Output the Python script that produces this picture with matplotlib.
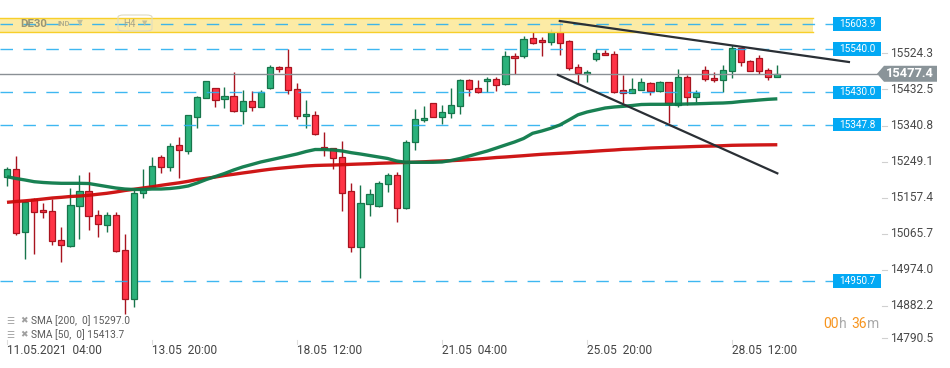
import matplotlib
matplotlib.use('Agg')
import matplotlib.pyplot as plt
import matplotlib.transforms as mtransforms
from matplotlib.patches import Rectangle, Polygon, FancyBboxPatch
import numpy as np

plt.rcParams['font.family'] = ['Roboto', 'DejaVu Sans']

# ---------------- data ----------------
opens = [15214.3, 15234.6, 15074.5, 15159.1, 15131.2, 15128.6, 15054.1, 15039.0, 15140.6, 15178.7,
         15117.7, 15092.3, 15117.7, 15028.7, 14904.2, 15173.6, 15192.2, 15265.1, 15239.7, 15296.4,
         15281.9, 15368.3, 15415.1, 15440.5, 15412.5, 15420.1, 15382.0, 15407.4, 15392.2, 15440.5,
         15493.9, 15493.9, 15437.9, 15369.3, 15371.9, 15290.5, 15288.0, 15265.1, 15178.7, 15036.4,
         15145.7, 15140.6, 15196.5, 15219.4, 15135.5, 15303.2, 15359.1, 15402.4, 15366.8, 15376.9,
         15394.7, 15460.8, 15440.5, 15458.3, 15463.4, 15450.6, 15521.8, 15521.8, 15567.6, 15562.5,
         15556.9, 15584.8, 15559.9, 15494.0, 15476.1, 15514.2, 15529.4, 15526.9, 15435.4, 15427.8,
         15435.4, 15453.2, 15432.9, 15455.7, 15397.3, 15468.4, 15417.6, 15486.2, 15465.9, 15460.8,
         15483.7, 15542.1, 15509.1, 15516.7, 15486.2, 15468.4]
highs = [15239.7, 15268.4, 15155.0, 15161.0, 15148.2, 15159.1, 15088.0, 15187.1, 15220.1, 15227.7,
         15131.2, 15126.1, 15126.1, 15069.4, 15187.1, 15234.6, 15266.6, 15271.0, 15300.7, 15317.5,
         15372.6, 15420.9, 15459.0, 15441.0, 15443.8, 15481.9, 15435.4, 15432.9, 15435.4, 15498.9,
         15496.4, 15540.4, 15453.2, 15410.0, 15382.0, 15328.6, 15288.7, 15305.8, 15199.0, 15193.9,
         15183.8, 15204.1, 15224.4, 15227.0, 15308.3, 15387.1, 15394.7, 15403.0, 15397.3, 15440.5,
         15463.4, 15463.4, 15460.8, 15468.4, 15468.4, 15534.5, 15529.4, 15572.6, 15582.8, 15570.1,
         15590.4, 15611.5, 15563.0, 15501.5, 15486.2, 15539.6, 15537.1, 15534.5, 15473.5, 15465.9,
         15465.9, 15455.7, 15458.3, 15456.5, 15488.8, 15473.5, 15435.4, 15496.4, 15481.1, 15498.9,
         15549.8, 15542.9, 15511.6, 15524.4, 15491.3, 15498.9]
lows = [15192.9, 15067.0, 15006.0, 15018.6, 15110.0, 15041.4, 14998.3, 15036.4, 15056.7, 15079.6,
        15061.8, 15074.5, 15023.7, 14866.8, 14884.6, 15160.9, 15190.0, 15226.0, 15231.0, 15211.7,
        15273.5, 15338.8, 15414.6, 15392.2, 15389.6, 15379.5, 15349.0, 15382.0, 15391.7, 15437.9,
        15481.1, 15425.2, 15361.7, 15338.8, 15323.0, 15267.6, 15234.6, 15127.9, 15023.7, 14957.6,
        15115.2, 15140.0, 15176.1, 15099.9, 15133.0, 15282.9, 15354.1, 15366.3, 15349.0, 15364.2,
        15374.4, 15420.1, 15427.8, 15430.3, 15432.9, 15448.1, 15476.1, 15516.7, 15553.0, 15521.8,
        15550.5, 15524.4, 15486.2, 15454.5, 15455.7, 15509.1, 15524.0, 15429.8, 15402.4, 15427.3,
        15434.9, 15422.7, 15430.3, 15351.5, 15392.2, 15397.3, 15404.9, 15458.3, 15455.7, 15430.3,
        15465.9, 15496.4, 15483.2, 15476.1, 15460.8, 15468.0]
closes = [15234.6, 15072.0, 15152.3, 15125.3, 15125.3, 15051.6, 15041.4, 15143.1, 15178.7, 15115.2,
          15094.8, 15117.7, 15026.2, 14904.2, 15173.6, 15186.3, 15243.0, 15241.2, 15293.8, 15283.7,
          15371.9, 15418.4, 15458.3, 15410.0, 15420.1, 15382.0, 15407.4, 15392.2, 15430.3, 15493.9,
          15488.8, 15435.4, 15369.3, 15374.4, 15323.6, 15285.4, 15262.6, 15173.6, 15036.4, 15148.2,
          15171.1, 15199.0, 15219.4, 15135.5, 15303.2, 15361.7, 15364.2, 15366.8, 15379.5, 15397.3,
          15460.8, 15437.9, 15430.3, 15463.4, 15448.1, 15521.8, 15516.7, 15565.0, 15554.8, 15557.4,
          15584.1, 15554.8, 15491.3, 15478.6, 15481.1, 15529.4, 15524.4, 15430.3, 15427.8, 15437.9,
          15455.7, 15432.9, 15455.7, 15402.4, 15468.4, 15417.6, 15427.8, 15463.4, 15460.8, 15486.2,
          15542.1, 15506.6, 15483.7, 15483.7, 15468.4, 15477.4]

sma50 = [15215.8, 15211.2, 15207.4, 15203.1, 15201.1, 15199.8, 15199.0, 15199.0, 15199.0, 15198.5,
         15194.7, 15190.9, 15187.1, 15184.5, 15183.3, 15183.3, 15184.5, 15184.5, 15185.8, 15188.3,
         15192.2, 15199.8, 15208.7, 15216.3, 15223.9, 15232.8, 15240.5, 15246.8, 15253.2, 15258.2,
         15263.3, 15268.4, 15273.5, 15279.8, 15284.9, 15284.9, 15283.7, 15281.1, 15276.8, 15273.5,
         15269.7, 15265.9, 15262.1, 15255.7, 15252.4, 15252.4, 15252.4, 15252.4, 15253.2, 15257.0,
         15262.1, 15268.4, 15274.8, 15281.1, 15288.7, 15296.4, 15304.0, 15312.9, 15326.1, 15331.9,
         15338.8, 15347.2, 15359.9, 15373.1, 15380.2, 15385.3, 15390.4, 15393.0, 15394.7, 15396.8,
         15399.3, 15399.8, 15399.8, 15399.8, 15399.8, 15400.6, 15401.1, 15401.8, 15402.6, 15403.1,
         15404.4, 15406.9, 15408.7, 15410.7, 15412.5, 15413.7]
sma200 = [15150.7, 15152.8, 15154.5, 15156.6, 15159.1, 15161.7, 15163.4, 15165.5, 15166.7, 15168.5,
          15171.1, 15173.6, 15176.9, 15180.7, 15183.8, 15187.1, 15190.1, 15193.9, 15197.2, 15200.3,
          15204.1, 15208.7, 15211.7, 15215.0, 15218.9, 15221.9, 15225.2, 15228.3, 15231.6, 15234.6,
          15237.1, 15239.2, 15241.2, 15243.0, 15244.3, 15245.0, 15245.5, 15246.3, 15247.3, 15248.1,
          15248.8, 15249.9, 15250.6, 15251.4, 15251.9, 15252.7, 15253.7, 15254.9, 15255.7, 15256.5,
          15257.7, 15259.3, 15260.8, 15262.6, 15264.6, 15265.9, 15267.6, 15269.2, 15271.0, 15272.7,
          15274.0, 15275.3, 15276.5, 15278.1, 15279.3, 15280.9, 15282.4, 15283.7, 15285.4, 15286.2,
          15287.5, 15288.7, 15289.5, 15290.3, 15291.0, 15291.8, 15292.6, 15293.3, 15293.8, 15294.6,
          15295.6, 15296.0, 15296.3, 15296.6, 15296.8, 15297.0]

levels = [15603.9, 15540.0, 15430.0, 15347.8, 14950.7]
zone_low, zone_high = 15584.3, 15618.4
last_price = 15477.4
yticks = [15524.3, 15432.5, 15340.8, 15249.1, 15157.4, 15065.7, 14974.0, 14882.2, 14790.5]
xtick_idx = [0, 16, 32, 48, 64, 80]
xtick_labels = ['11.05.2021  04:00', '13.05  20:00', '18.05  12:00',
                '21.05  04:00', '25.05  20:00', '28.05  12:00']
upper_trend_x = [61.0, 92.9]
upper_trend_y = [15611.5, 15507.3]
lower_trend_x = [60.8, 85.0]
lower_trend_y = [15474.3, 15224.4]
sma200_label = 'SMA [200,  0] 15297.0'
sma50_label = 'SMA [50,  0] 15413.7'

# ---------------- figure ----------------
W, H = 950, 368
fig = plt.figure(figsize=(W / 100, H / 100), dpi=100)
AX_W, AX_H = 880, 344
ax = fig.add_axes([0, (H - AX_H) / H, AX_W / W, AX_H / H])
ax.set_xlim(-0.772, 96.33)
ax.set_ylim(14790.6, 15664.9)
ax.axis('off')

def px(x):  # figure pixel x -> axes fraction
    return x / AX_W

yax = ax.get_yaxis_transform()

# yellow zone
ax.add_patch(Rectangle((0, zone_low), px(813), zone_high - zone_low, transform=yax,
                       facecolor='#fce896', edgecolor='none', alpha=0.85, zorder=4))
for yv in (zone_low, zone_high):
    ax.plot([0, px(813)], [yv, yv], transform=yax, color='#f7cf2a', lw=1.0, zorder=4.1)

# candles
idx = np.arange(len(opens))
o = np.array(opens); c = np.array(closes); hi = np.array(highs); lo = np.array(lows)
up = c >= o
body_bottom = np.minimum(o, c)
body_h = np.maximum(np.abs(c - o), 2.5)
g_face, g_edge = '#2bb27b', '#17754b'
r_face, r_edge = '#ff3346', '#a8141f'
ax.vlines(idx[up], lo[up], hi[up], color=g_edge, lw=1.0, zorder=2)
ax.vlines(idx[~up], lo[~up], hi[~up], color=r_edge, lw=1.0, zorder=2)
ax.bar(idx[up], body_h[up], bottom=body_bottom[up], width=0.68, color=g_face,
       edgecolor=g_edge, linewidth=0.9, zorder=3)
ax.bar(idx[~up], body_h[~up], bottom=body_bottom[~up], width=0.68, color=r_face,
       edgecolor=r_edge, linewidth=0.9, zorder=3)

# SMA lines
ax.plot(idx, sma200, color='#cc0a0a', lw=2.4, zorder=5, solid_capstyle='butt', alpha=0.95)
ax.plot(idx, sma50, color='#0c7a4a', lw=2.4, zorder=5, solid_capstyle='butt', alpha=0.95)

# trend lines
ax.plot(upper_trend_x, upper_trend_y, color='#2a2f35', lw=1.6, zorder=6)
ax.plot(lower_trend_x, lower_trend_y, color='#2a2f35', lw=1.6, zorder=6)

# level lines + labels
blue = '#29b0f0'
for lv in levels:
    ax.plot([0, px(833)], [lv, lv], transform=yax, color=blue, lw=1.0, alpha=0.9,
            ls=(0, (9, 7.5)), zorder=4.5)
    ax.add_patch(Rectangle((px(833), lv - 17.0), px(48), 34.0, transform=yax,
                           facecolor='#03a9f4', edgecolor='none', zorder=7, clip_on=False))
    ax.text(px(857), lv, f'{lv:.1f}', transform=yax, ha='center', va='center',
            color='white', fontsize=7.2, zorder=8, clip_on=False)

# current price line + tag
ax.plot([0, px(877)], [last_price, last_price], transform=yax, color='#8a9095', lw=1.0, zorder=4.6,
        clip_on=False)
dh = 20.3
ax.add_patch(Polygon([(px(877), last_price), (px(884), last_price + dh), (px(937), last_price + dh),
                      (px(937), last_price - dh), (px(884), last_price - dh)], closed=True,
                     transform=yax, facecolor='#8a9499', edgecolor='none', zorder=9, clip_on=False))
ax.text(px(910), last_price, f'{last_price:.1f}', transform=yax, ha='center', va='center',
        color='white', fontsize=9.3, fontweight='bold', zorder=10, clip_on=False)

# y tick labels
for t in yticks:
    dy = 2 / 100 if t > 14800 else 6 / 100
    tr = yax + mtransforms.ScaledTranslation(0, dy, fig.dpi_scale_trans)
    ax.text(px(890), t, f'{t:.1f}', transform=tr, ha='left', va='center',
            color='#4a4a4a', fontsize=8.6, clip_on=False)
    ax.plot([px(882), px(887)], [t, t], transform=tr, color='#d0d0d0', lw=0.8, clip_on=False)

# x tick labels
xtr = mtransforms.blended_transform_factory(ax.transData, fig.transFigure)
for i, lab in zip(xtick_idx, xtick_labels):
    ax.text(i + 0.05, 1 - 351 / H, lab, transform=xtr, ha='left', va='center',
            color='#444444', fontsize=8.6, clip_on=False)
    ax.plot([i, i], [1 - 340 / H, 1 - 344 / H], transform=xtr, color='#dddddd', lw=0.8,
            clip_on=False)

# legend of indicators
for yy, lab in ((321, sma200_label), (335, sma50_label)):
    fig.text(6 / W, 1 - yy / H, '\u2630', color='#a0a0a0', fontsize=6.5, va='center', ha='left',
             family=['DejaVu Sans'])
    fig.text(20 / W, 1 - yy / H, '\u2716', color='#a0a0a0', fontsize=6.5, va='center', ha='left',
             family=['DejaVu Sans'])
    fig.text(31 / W, 1 - yy / H, lab, color='#5a5a5a', fontsize=7.3, va='center', ha='left')

# timer
for xx, s, col in ((823, '00', '#f7941d'), (838.5, 'h', '#aaaaaa'), (851, '36', '#f7941d'),
                   (867, 'm', '#aaaaaa')):
    fig.text(xx / W, 1 - 324 / H, s, color=col, fontsize=10, va='center', ha='left')

# toolbar overlay (top left)
fig.text(20 / W, 1 - 24 / H, 'DE30', color='#8e8c70', fontsize=8.2, fontweight='bold',
         va='center', ha='left', alpha=0.9)
fig.text(57 / W, 1 - 24 / H, 'IND', color='#b3b08e', fontsize=5.5, fontweight='bold',
         va='center', ha='left')
fig.text(77 / W, 1 - 23 / H, '\u25bc', color='#c2bf9a', fontsize=5.5, va='center', ha='left',
         family=['DejaVu Sans'])
fig.patches.append(FancyBboxPatch((118 / W, 1 - 31 / H), 34 / W, 16 / H,
                                  boxstyle='round,pad=0,rounding_size=0.006',
                                  transform=fig.transFigure, facecolor='none',
                                  edgecolor='#dedbc0', lw=0.8, figure=fig))
fig.text(123 / W, 1 - 24 / H, 'H4', color='#a8a68a', fontsize=7, va='center', ha='left')
fig.text(142 / W, 1 - 23.5 / H, '\u25bc', color='#c2bf9a', fontsize=5, va='center', ha='left',
         family=['DejaVu Sans'])

fig.savefig('out.png', dpi=100, facecolor='white')
